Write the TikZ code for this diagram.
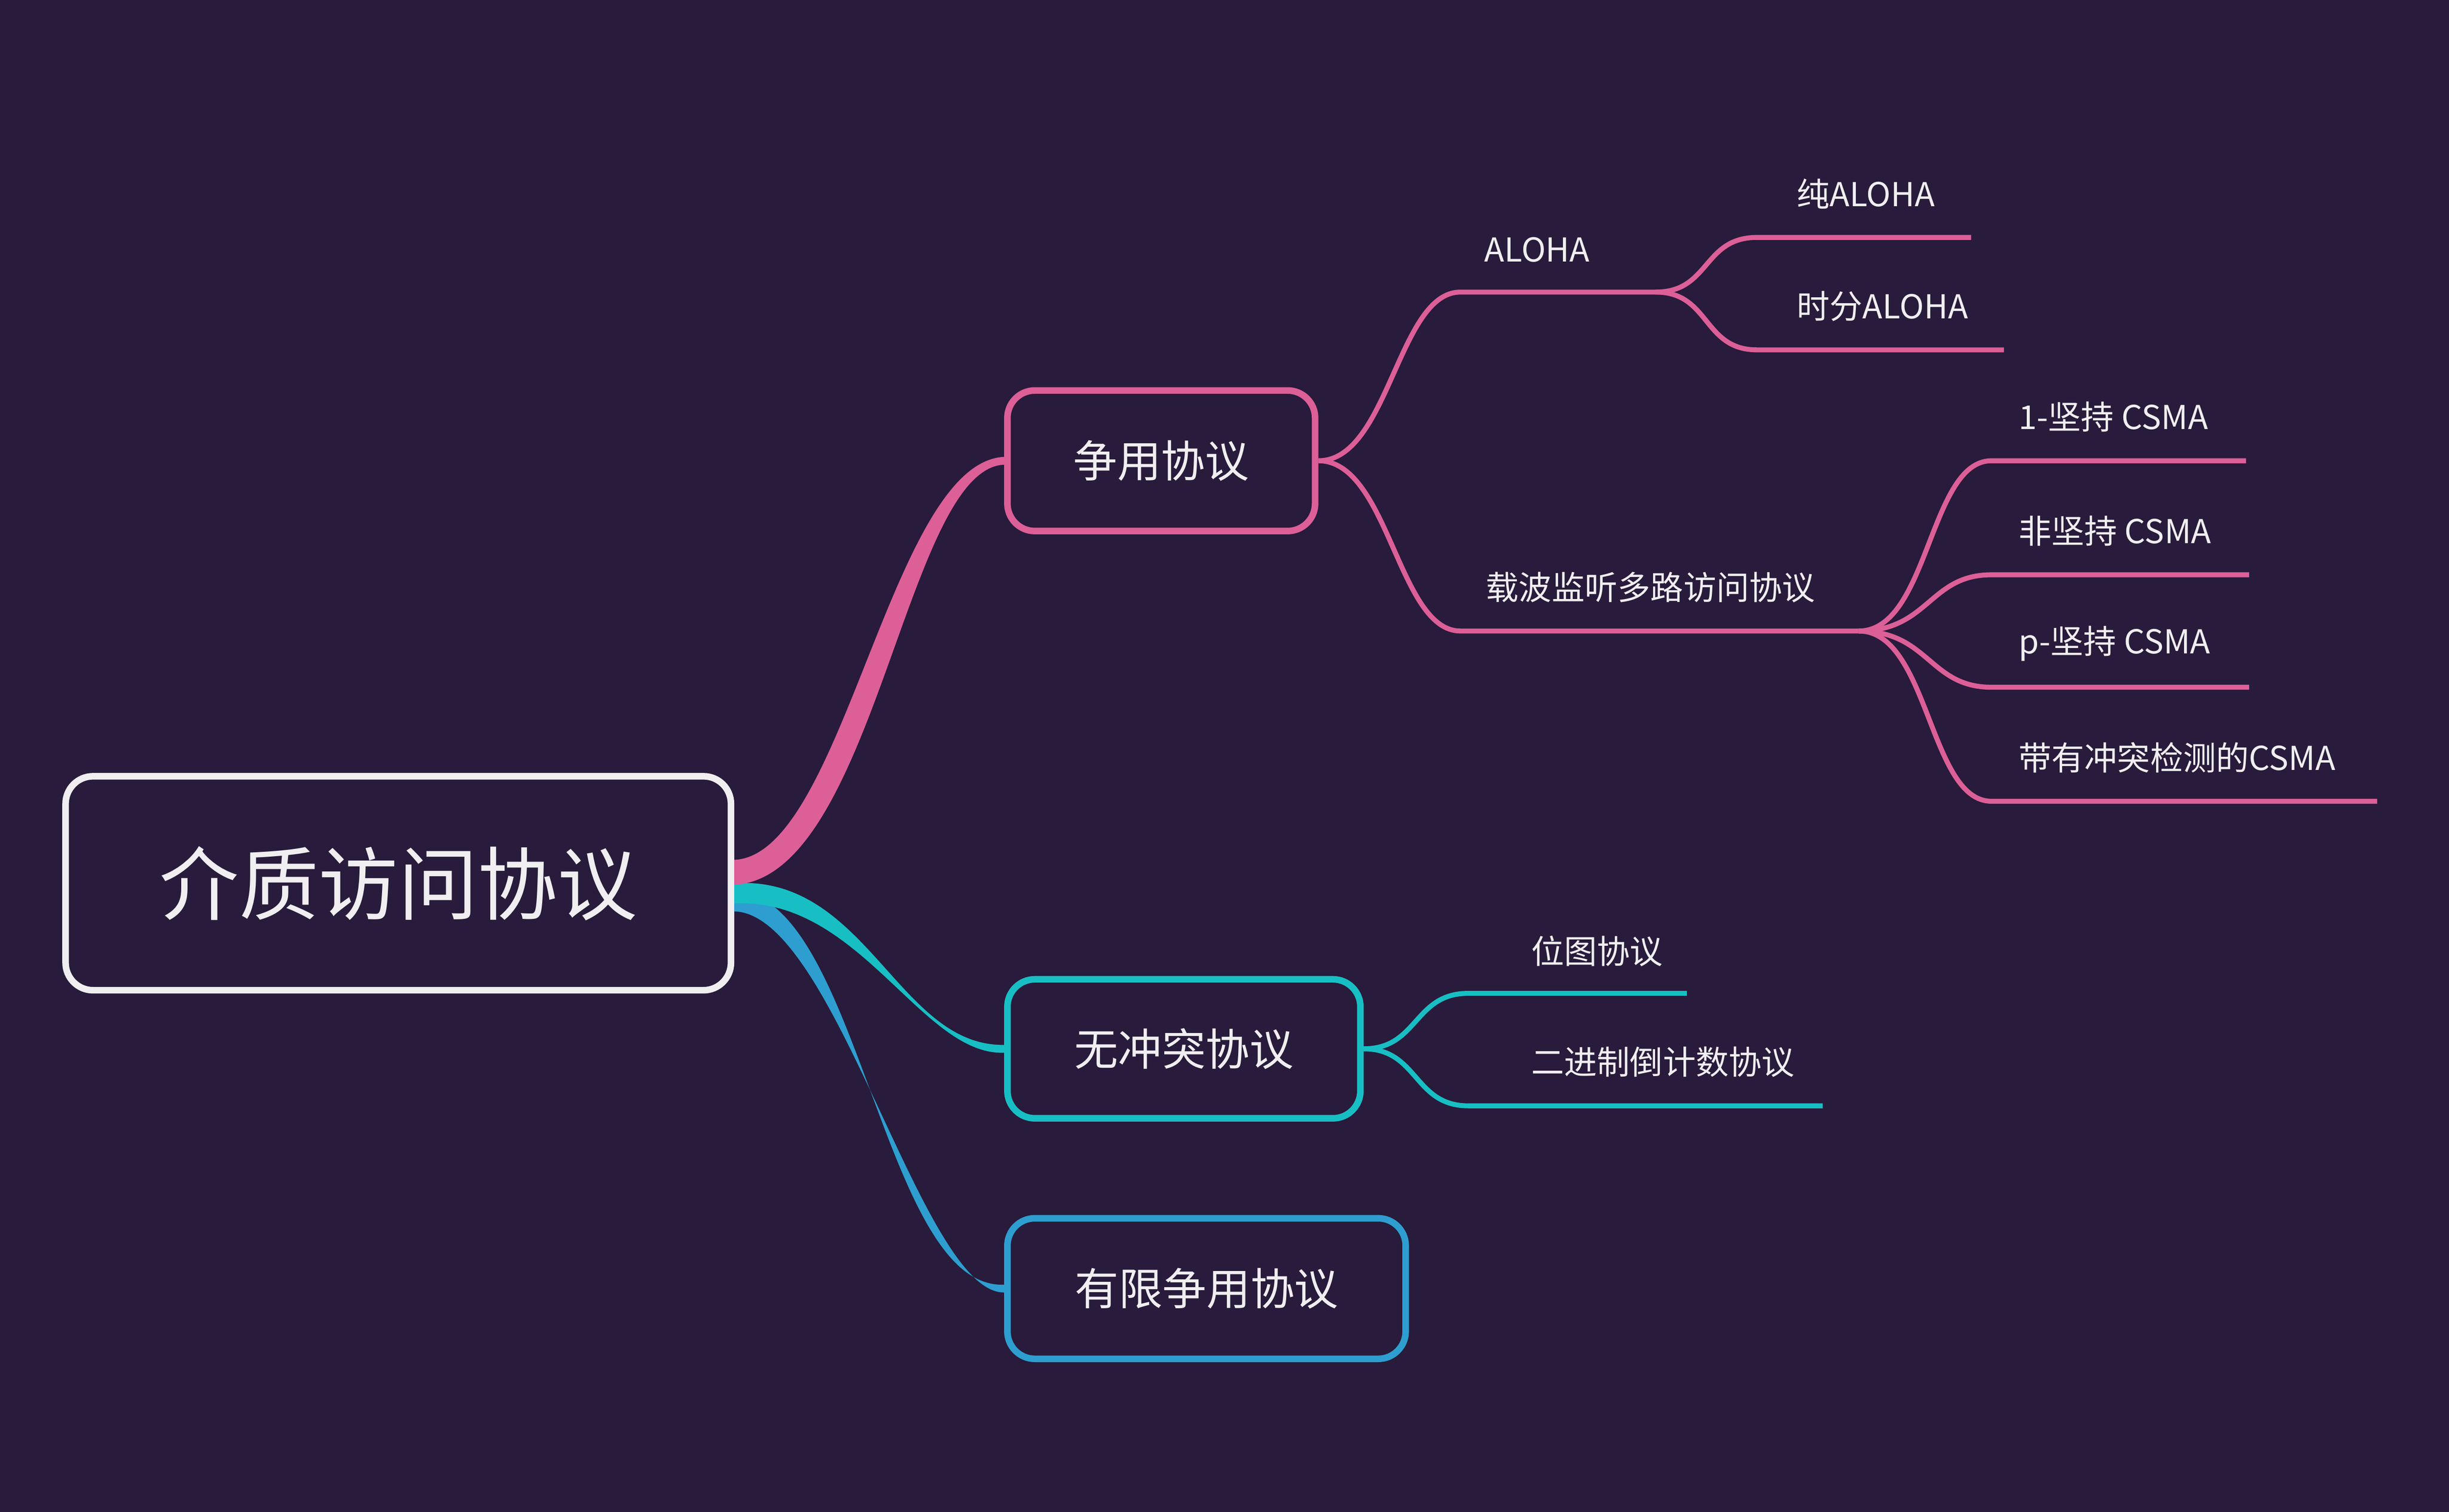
\documentclass[tikz,border=0pt]{standalone}
\usepackage{fontspec}
\newfontfamily\cjk{Noto Sans CJK SC}
\definecolor{bg}{HTML}{281B3B}
\definecolor{pk}{HTML}{DC5F98}
\definecolor{tl}{HTML}{17BFC4}
\definecolor{bl}{HTML}{2E9ED0}
\definecolor{wt}{HTML}{F0EEF0}
\tikzset{
 box/.style={draw, line width=2.4pt, rounded corners=10pt, inner sep=0pt, text=wt, font=\cjk\fontsize{16}{18}\selectfont},
 leaf/.style={anchor=west, text=wt, inner sep=0pt, font=\cjk\fontsize{12}{14}\selectfont},
 br/.style={line width=1.8pt},
}
\begin{document}
\begin{tikzpicture}[x=0.02cm,y=-0.02cm]
\fill[bg] (0,0) rectangle (1568,968);
\useasboundingbox (0,0) rectangle (1568,968);
% root
\node[box, draw=wt, minimum width=426*0.02cm, minimum height=137*0.02cm, font=\cjk\fontsize{29}{32}\selectfont] (root) at (255,565.5) {介质访问协议};
\node[box, draw=pk, minimum width=197*0.02cm, minimum height=90*0.02cm] (b1) at (743.5,295) {争用协议};
\node[box, draw=tl, minimum width=226*0.02cm, minimum height=89*0.02cm] (b2) at (758,671.5) {无冲突协议};
\node[box, draw=bl, minimum width=255*0.02cm, minimum height=90*0.02cm] (b3) at (772.5,825) {有限争用协议};
% tapered main branches
\coordinate (r) at (root.east);
\fill[bl] ([yshift=-0.10cm]r) .. controls (550,572) and (565,826) .. ([yshift=0.05cm]b3.west) -- ([yshift=-0.05cm]b3.west) .. controls (590,828) and (535,585) .. ([yshift=-0.36cm]r) -- cycle;
\fill[tl] ([yshift=0.00cm]r) .. controls (555,560) and (575,670) .. ([yshift=0.05cm]b2.west) -- ([yshift=-0.05cm]b2.west) .. controls (590,676) and (550,574) .. ([yshift=-0.26cm]r) -- cycle;
\fill[pk] ([yshift=0.30cm]r) .. controls (540,548) and (570,296) .. ([yshift=0.05cm]b1.west) -- ([yshift=-0.05cm]b1.west) .. controls (580,300) and (560,562) .. ([yshift=-0.02cm]r) -- cycle;
% level 2 pink
\coordinate (a1) at (935,187); \coordinate (a2) at (1060,187);
\coordinate (c1) at (935,404); \coordinate (c2) at (1190,404);
\draw[pk,br] (b1.east) .. controls +(45,0) and +(-40,0) .. (a1) -- (a2);
\draw[pk,br] (b1.east) .. controls +(45,0) and +(-40,0) .. (c1) -- (c2);
\node[leaf] (ta) at (950,160) {ALOHA};
\node[leaf] (tc) at (951,376) {载波监听多路访问协议};
\coordinate (p1) at (1125,152); \coordinate (p2) at (1125,224);
\draw[pk,br] (a2) .. controls +(35,0) and +(-35,0) .. (p1) -- (1262,152);
\draw[pk,br] (a2) .. controls +(35,0) and +(-35,0) .. (p2) -- (1283,224);
\node[leaf] (t11) at (1150,124) {纯ALOHA};
\node[leaf] (t12) at (1150,196) {时分ALOHA};
\foreach \y/\e/\t/\n in {295/1438/1-坚持 CSMA/q1, 368/1440/非坚持 CSMA/q2, 440/1440/p-坚持 CSMA/q3, 513/1522/带有冲突检测的CSMA/q4}{
  \coordinate (\n) at (1275,\y);
  \draw[pk,br] (c2) .. controls +(45,0) and +(-40,0) .. (\n) -- (\e,\y);
  \node[leaf] at (1292,\y-28) {\t};
}
% level 2 teal
\coordinate (d1) at (940,636); \coordinate (d2) at (940,708);
\draw[tl,br] (b2.east) .. controls +(35,0) and +(-35,0) .. (d1) -- (1080,636);
\draw[tl,br] (b2.east) .. controls +(35,0) and +(-35,0) .. (d2) -- (1167,708);
\node[leaf] (t21) at (980,609) {位图协议};
\node[leaf] (t22) at (980,680) {二进制倒计数协议};
\end{tikzpicture}
\end{document}
